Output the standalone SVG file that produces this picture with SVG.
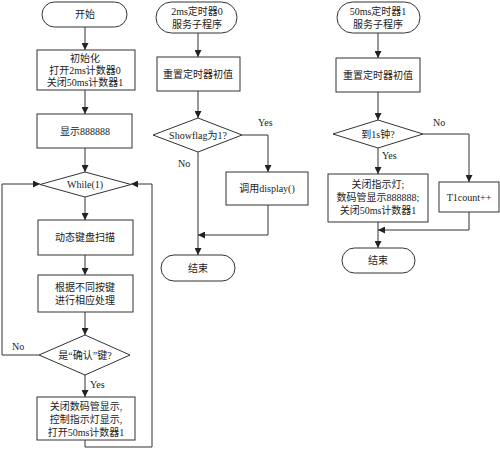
<svg xmlns="http://www.w3.org/2000/svg" width="500" height="450" viewBox="0 0 500 450">
<defs>
<marker id="arr" viewBox="0 0 10 10" refX="10" refY="5" markerWidth="7" markerHeight="7" orient="auto" markerUnits="userSpaceOnUse">
<path d="M0,0 L10,5 L0,10 z" fill="#222"/>
</marker>
</defs>
<style>
.s{fill:#fff;stroke:#333;stroke-width:1}
.c{fill:none;stroke:#333;stroke-width:1}
text{font-family:"Liberation Serif","Noto Sans CJK SC",serif;font-size:10px;fill:#222;text-anchor:middle}
.l{text-anchor:start}
</style>
<rect width="500" height="450" fill="#fff"/>
<g id="connectors">
<path class="c" d="M85,27 V50" marker-end="url(#arr)"/>
<path class="c" d="M85,90 V114" marker-end="url(#arr)"/>
<path class="c" d="M85,148 V172" marker-end="url(#arr)"/>
<path class="c" d="M85,197 V220" marker-end="url(#arr)"/>
<path class="c" d="M85,255 V275" marker-end="url(#arr)"/>
<path class="c" d="M85,312 V335" marker-end="url(#arr)"/>
<path class="c" d="M85,375 V397" marker-end="url(#arr)"/>
<path class="c" d="M39,355 H2 V184 H40" marker-end="url(#arr)"/>
<path class="c" d="M85,440 V447 H152 V184 H131" marker-end="url(#arr)"/>
<path class="c" d="M198,33 V57" marker-end="url(#arr)"/>
<path class="c" d="M198,91 V118" marker-end="url(#arr)"/>
<path class="c" d="M198,152 V255" marker-end="url(#arr)"/>
<path class="c" d="M242,135 H268 V172" marker-end="url(#arr)"/>
<path class="c" d="M268,205 V235 H198" marker-end="url(#arr)"/>
<path class="c" d="M378,33 V58" marker-end="url(#arr)"/>
<path class="c" d="M378,92 V120" marker-end="url(#arr)"/>
<path class="c" d="M378,148 V174" marker-end="url(#arr)"/>
<path class="c" d="M423,134 H469 V182" marker-end="url(#arr)"/>
<path class="c" d="M378,222 V248" marker-end="url(#arr)"/>
<path class="c" d="M469,212 V230 H378" marker-end="url(#arr)"/>
</g>
<g id="start">
<rect class="s" x="42" y="2" width="85" height="25" rx="12.5"/>
<text x="85" y="18">开始</text>
</g>
<g id="init">
<rect class="s" x="37" y="50" width="98" height="40"/>
<text x="85" y="62">初始化</text>
<text x="85" y="74">打开2ms计数器0</text>
<text x="85" y="86">关闭50ms计数器1</text>
</g>
<g id="show888">
<rect class="s" x="37" y="114" width="95" height="34"/>
<text x="85" y="135">显示888888</text>
</g>
<g id="while">
<polygon class="s" points="40,184.5 85,172 131,184.5 85,197"/>
<text x="85" y="188">While(1)</text>
</g>
<g id="scan">
<rect class="s" x="38" y="220" width="95" height="35"/>
<text x="85" y="241">动态键盘扫描</text>
</g>
<g id="process">
<rect class="s" x="38" y="275" width="95" height="37"/>
<text x="85" y="291">根据不同按键</text>
<text x="85" y="304">进行相应处理</text>
</g>
<g id="confirm">
<polygon class="s" points="39,355 85,335 130,355 85,375"/>
<text x="85" y="359">是“确认”键?</text>
</g>
<text class="l" x="12" y="350">No</text>
<text class="l" x="90" y="388">Yes</text>
<g id="closeDisp">
<rect class="s" x="37" y="397" width="98" height="43"/>
<text x="86" y="410">关闭数码管显示,</text>
<text x="86" y="423">控制指示灯显示,</text>
<text x="86" y="436">打开50ms计数器1</text>
</g>
<g id="t0start">
<rect class="s" x="156" y="2" width="81" height="31" rx="15.5"/>
<text x="197" y="15">2ms定时器0</text>
<text x="197" y="28">服务子程序</text>
</g>
<g id="t0reset">
<rect class="s" x="157" y="57" width="83" height="34"/>
<text x="198" y="78">重置定时器初值</text>
</g>
<g id="showflag">
<polygon class="s" points="153,135 198,118 242,135 198,152"/>
<text x="198" y="139">Showflag为1?</text>
</g>
<text class="l" x="258" y="126">Yes</text>
<text class="l" x="178" y="167">No</text>
<g id="display">
<rect class="s" x="226" y="172" width="82" height="33"/>
<text x="267" y="192">调用display()</text>
</g>
<g id="t0end">
<rect class="s" x="161" y="255" width="74" height="26" rx="13"/>
<text x="198" y="272">结束</text>
</g>
<g id="t1start">
<rect class="s" x="337" y="2" width="83" height="31" rx="15.5"/>
<text x="378" y="15">50ms定时器1</text>
<text x="378" y="28">服务子程序</text>
</g>
<g id="t1reset">
<rect class="s" x="336" y="58" width="84" height="34"/>
<text x="378" y="79">重置定时器初值</text>
</g>
<g id="onesec">
<polygon class="s" points="333,134 378,120 423,134 378,148"/>
<text x="378" y="138">到1s钟?</text>
</g>
<text class="l" x="433" y="126">No</text>
<text class="l" x="382" y="159">Yes</text>
<g id="closeLed">
<rect class="s" x="328" y="174" width="100" height="48"/>
<text x="378" y="188">关闭指示灯;</text>
<text x="378" y="201">数码管显示888888;</text>
<text x="378" y="214">关闭50ms计数器1</text>
</g>
<g id="t1count">
<rect class="s" x="439" y="182" width="60" height="30"/>
<text x="469" y="201">T1count++</text>
</g>
<g id="t1end">
<rect class="s" x="342" y="248" width="73" height="25" rx="12.5"/>
<text x="378" y="264">结束</text>
</g>
</svg>
